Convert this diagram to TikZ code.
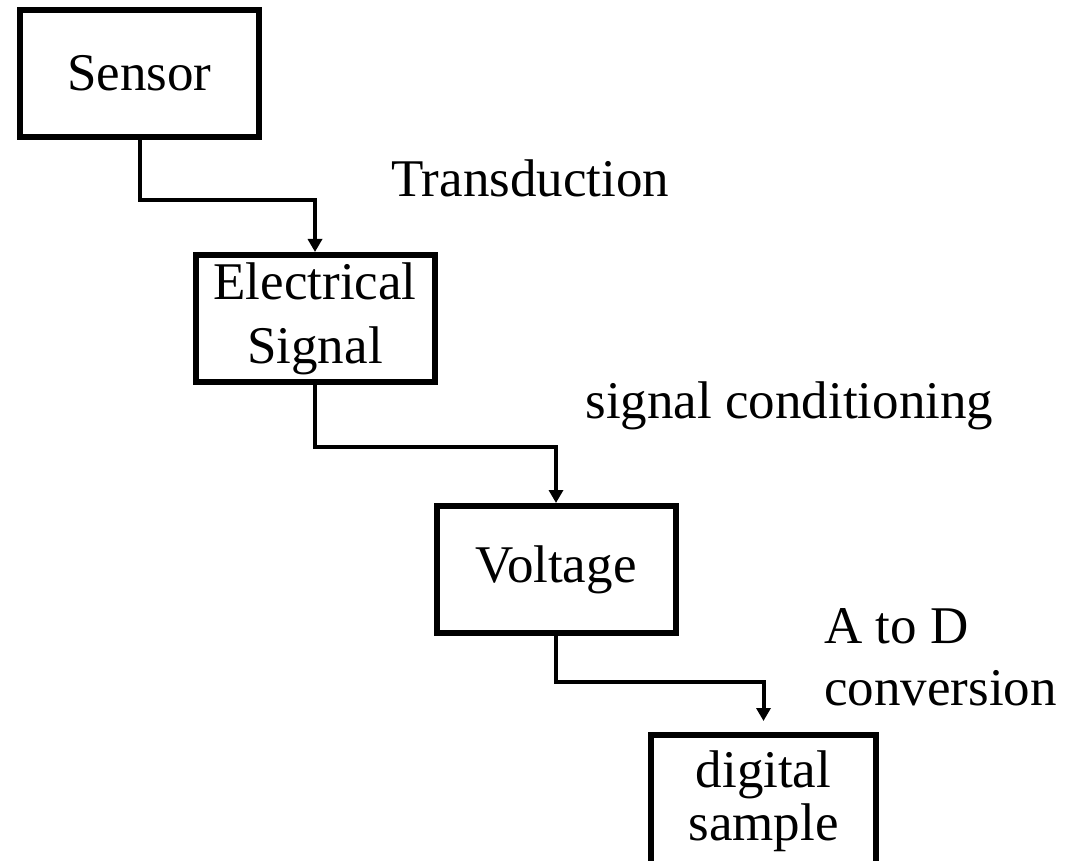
\documentclass[tikz,border=0pt]{standalone}
\usepackage{fontspec}
\setmainfont{Liberation Serif}
\usetikzlibrary{positioning,arrows.meta,calc}

\begin{document}
\begin{tikzpicture}[x=0.5pt, y=-0.5pt, font=\fontsize{26.5}{32}\selectfont, every node/.style={align=center}]
\tikzset{
  stage/.style={draw, line width=3pt, minimum width=119.5pt, minimum height=63.5pt, inner sep=0pt},
  flow/.style={-{Triangle[length=6.5pt,width=7pt]}, line width=2pt},
  note/.style={anchor=base west, inner sep=0pt, align=left}
}
  \useasboundingbox (0,0) rectangle (1076,861);
  \clip (0,0) rectangle (1076,861);

  % processing stages
  \node[stage] (sensor) at (139.5,73.5) {Sensor};
  \node[stage] (elec) at (315,318.5) {Electrical\\Signal};
  \node[stage] (volt) at (556,569.5) {Voltage};
  \node[stage, minimum width=112.5pt, minimum height=66.5pt,
        font=\fontsize{26.5}{26.5}\selectfont] (digi) at (763.5,801.5) {digital\\sample};

  % step labels
  \node[note] (trans) at (391,197) {Transduction};
  \node[note] (cond) at (585,418) {signal conditioning};
  \node[note] (atod) at (824,643) {A to D};
  \node[note] (conv) at (824,705) {conversion};

  % connectors
  \draw[flow] (sensor.south) -- ++(0,60) -| (elec.north);
  \draw[flow] (elec.south) -- ++(0,62) -| (volt.north);
  \draw[flow, shorten >=5.5pt] (volt.south) -- ++(0,46) -| (digi.north);
\end{tikzpicture}
\end{document}
